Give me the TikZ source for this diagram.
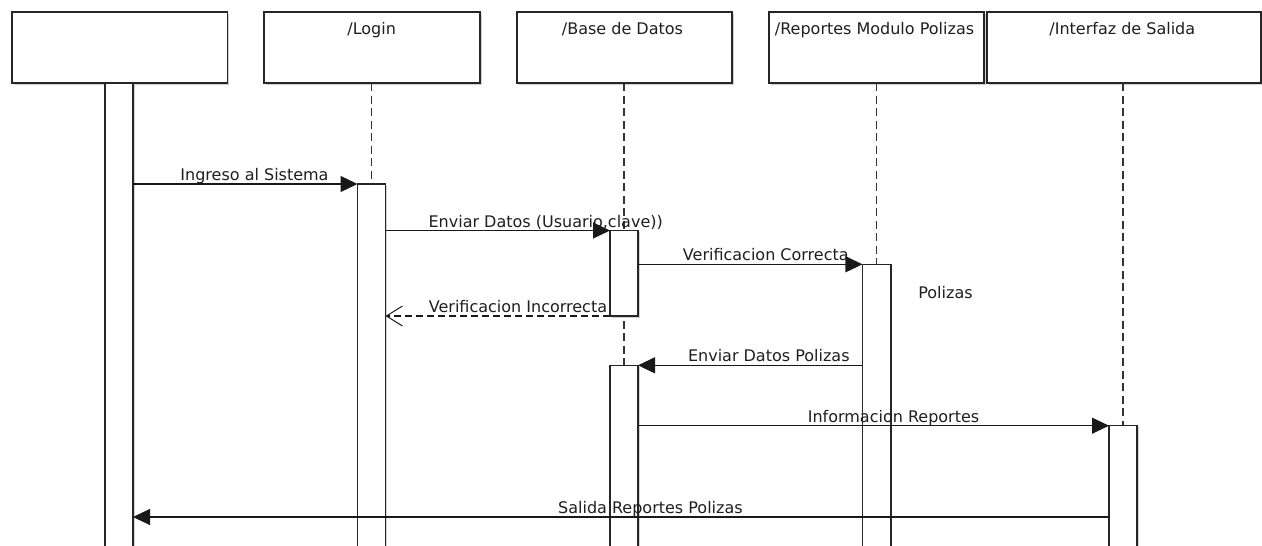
\documentclass[tikz,border=0pt]{standalone}
\usepackage{fontspec}
\setmainfont{DejaVu Sans}
\usetikzlibrary{arrows.meta,shadows,calc}
\begin{document}
\begin{tikzpicture}[x=1pt,y=-1pt,
  every node/.style={inner sep=0pt, outer sep=0pt},
  txt/.style={font=\fontsize{16}{19}\selectfont, text=black!88, anchor=base},
  shade/.style={drop shadow={shadow xshift=1.5pt, shadow yshift=-1.5pt, fill=black, opacity=0.18}},
  headbox/.style={rectangle, draw=black!85, line width=1.2pt, fill=white, shade,
                  minimum height=71pt, anchor=north west},
  actbar/.style={rectangle, draw=black!85, line width=1.2pt, fill=white, shade,
                 minimum width=28pt, anchor=north},
  lifeline/.style={draw=black!80, line width=1.3pt, dash pattern=on 8pt off 4.5pt},
  msg/.style={draw=black!90, line width=1.2pt, -{Triangle[length=17pt,width=16pt]}},
  reply/.style={draw=black!90, line width=1.2pt, dash pattern=on 7pt off 4pt,
                -{Straight Barb[length=16pt,width=20pt,line width=1pt]}}]

\useasboundingbox (0,0) rectangle (1262,546);
\fill[white] (0,0) rectangle (1262,546);

% participant heads
\node[headbox, minimum width=215.7pt] (h0) at (12,12) {};
\node[headbox, minimum width=216pt] (hL) at (264,12) {};
\node[headbox, minimum width=215pt] (hD) at (517,12) {};
\node[headbox, minimum width=215pt] (hR) at (769,12) {};
\node[headbox, minimum width=274pt] (hI) at (987,12) {};

\node[txt] (tL) at (371.7,34.5) {/Login};
\node[txt] (tD) at (622.5,34.5) {/Base de Datos};
\node[txt] (tR) at (874.5,34.5) {/Reportes Modulo Polizas};
\node[txt] (tI) at (1122.3,34.5) {/Interfaz de Salida};

% lifelines
\coordinate (endL) at (371.7,548);
\coordinate (endD) at (624,548);
\coordinate (endR) at (876.7,548);
\coordinate (endI) at (1123,548);
\draw[lifeline] (hL.south -| endL) -- (endL);
\draw[lifeline] (hD.south -| endD) -- (endD);
\draw[lifeline] (hR.south -| endR) -- (endR);
\draw[lifeline] (hI.south -| endI) -- (endI);

% activation bars
\node[actbar, minimum height=466pt] (b0) at (119,83) {};
\node[actbar, minimum height=364pt] (bL) at (371.5,184) {};
\node[actbar, minimum height=85.5pt] (bD1) at (624,230.5) {};
\node[actbar, minimum height=284pt, minimum width=28.5pt] (bR) at (876.7,264.3) {};
\node[actbar, minimum height=183pt] (bD2) at (624,365.3) {};
\node[actbar, minimum height=123pt] (bI) at (1123,425.7) {};

% messages
\coordinate (ySalida) at (0,517);
\draw[msg] (b0.east |- bL.north) -- (bL.north west);
\draw[msg] (bL.east |- bD1.north) -- (bD1.north west);
\draw[msg] (bD1.east |- bR.north) -- (bR.north west);
\draw[reply] (bD1.south west) -- (bL.east |- bD1.south);
\draw[msg] (bR.west |- bD2.north) -- (bD2.north east);
\draw[msg] (bD2.east |- bI.north) -- (bI.north west);
\draw[msg] (bI.west |- ySalida) -- (b0.east |- ySalida);

% message labels
\node[txt] (m1) at (254.5,180) {Ingreso al Sistema};
\node[txt] (m2) at (545.7,227) {Enviar Datos (Usuario,clave))};
\node[txt] (m3) at (765.8,260.7) {Verificacion Correcta};
\node[txt] (m4) at (518,312.3) {Verificacion Incorrecta};
\node[txt] (m5) at (945.5,298) {Polizas};
\node[txt] (m6) at (768.8,361.7) {Enviar Datos Polizas};
\node[txt] (m7) at (893.5,422) {Informacion Reportes};
\node[txt] (m8) at (650.4,513.6) {Salida Reportes Polizas};
\end{tikzpicture}
\end{document}
